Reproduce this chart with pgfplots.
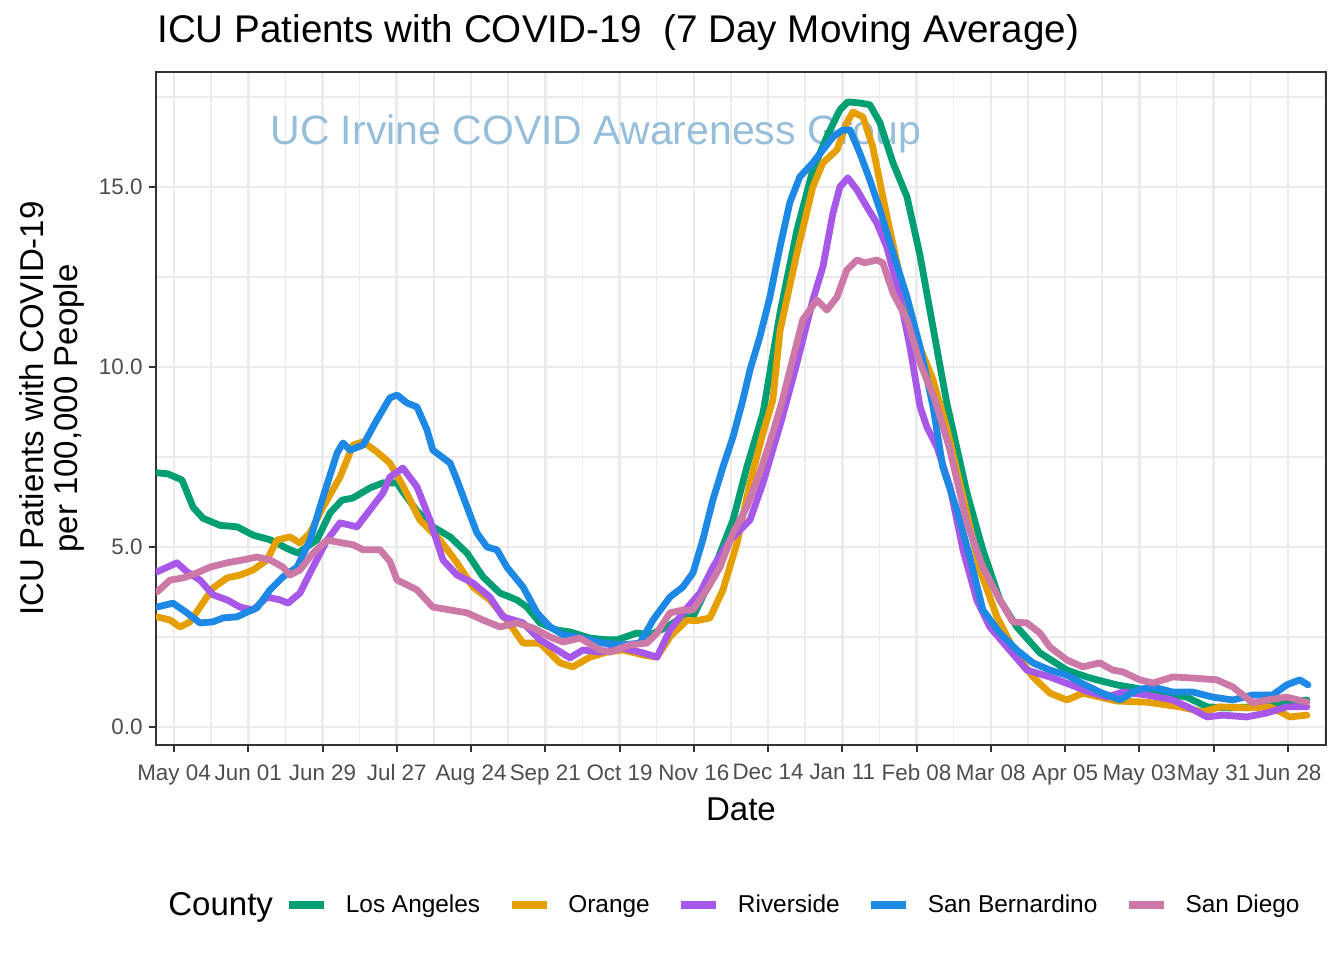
\documentclass[border=0pt]{standalone}
\usepackage{fontspec}
\setmainfont{Liberation Sans}
\usepackage{pgfplots}
\pgfplotsset{compat=1.18}
\definecolor{cla}{RGB}{0,158,115}
\definecolor{cor}{RGB}{230,159,0}
\definecolor{cri}{RGB}{168,88,232}
\definecolor{csb}{RGB}{30,136,229}
\definecolor{csd}{RGB}{204,121,167}
\definecolor{cwm}{RGB}{150,190,218}
\definecolor{g92}{RGB}{235,235,235}
\definecolor{g30}{RGB}{77,77,77}
\definecolor{g20}{RGB}{51,51,51}
\begin{document}
\begin{tikzpicture}
\useasboundingbox (-78pt,-107.5pt) rectangle (594pt,372.5pt);
\node[anchor=base west, inner sep=0pt, font=\fontsize{19.3}{22}\selectfont] at (0.5pt,351pt) {ICU Patients with COVID-19\ \ (7 Day Moving Average)};
\begin{axis}[
  at={(0,0)}, anchor=south west,
  scale only axis, width=585pt, height=336.5pt,
  xmin=-6.8, xmax=434.4, ymin=-0.5, ymax=18.19,
  xtick={0,28,...,420},
  xticklabels={May 04,Jun 01,Jun 29,Jul 27,Aug 24,Sep 21,Oct 19,Nov 16,Dec 14,Jan 11,Feb 08,Mar 08,Apr 05,May 03,May 31,Jun 28},
  ytick={0,5,10,15},
  yticklabels={0.0,5.0,10.0,15.0},
  minor xtick={14,42,...,434},
  minor ytick={2.5,7.5,12.5,17.5},
  grid=both,
  major grid style={color=g92, line width=1.3pt},
  minor grid style={color=g92, line width=0.7pt},
  minor tick length=0pt,
  major tick length=3.5pt,
  tick align=outside,
  xtick pos=bottom, ytick pos=left,
  tick style={color=g20, line width=1pt},
  axis line style={color=g20, line width=0.8pt},
  ticklabel style={font=\fontsize{11.2}{13}\selectfont, text=g30},
  xticklabel style={inner sep=0pt, yshift=-6pt},
  yticklabel style={inner sep=0pt, xshift=-3pt},
  xlabel={Date},
  ylabel={ICU Patients with COVID-19\\per 100,000 People},
  xlabel style={font=\fontsize{16.5}{19}\selectfont, at={(axis description cs:0.5,-0.1129)}, anchor=base, inner sep=0pt},
  ylabel style={font=\fontsize{16.5}{17}\selectfont, align=center, at={(axis description cs:-0.0885,0.5)}, anchor=center, inner sep=0pt},
  every axis plot/.append style={line width=3.4pt, line join=round, line cap=round},
  legend columns=5,
  legend style={draw=none, fill=none, at={(axis description cs:0.1105,-0.2377)}, anchor=west,
    inner sep=0pt, font=\fontsize{12.2}{14}\selectfont,
    /tikz/every odd column/.append style={column sep=7pt},
    /tikz/every even column/.append style={column sep=12pt}},
  legend image code/.code={\draw[#1, line width=3.6pt, line cap=butt] (0pt,0pt) -- (17.5pt,0pt);},
]
\node[anchor=base west, inner sep=0pt, text=cwm, font=\fontsize{20.5}{24}\selectfont] at (axis cs:36.2,16.17) {UC Irvine COVID Awareness Group};

\addplot[cla] coordinates {
(-6.4,7.06)(-2.3,7.03)(3.0,6.86)(7.2,6.10)(10.9,5.80)(17.3,5.60)(23.8,5.56)(29.8,5.33)(36.2,5.20)(43.7,4.92)(46.8,4.83)(53.9,5.20)(58.8,5.94)(63.3,6.30)(67.5,6.36)(73.9,6.64)(78.8,6.78)(84.1,6.78)(86.3,6.53)(91.6,6.0)(97.6,5.56)(104.1,5.28)(110.5,4.83)(116.5,4.17)(122.9,3.72)(129.3,3.53)(133.1,3.33)(138.0,2.89)(144.4,2.69)(149.3,2.64)(156.8,2.47)(163.2,2.42)(167.0,2.42)(174.6,2.61)(179.5,2.56)(185.9,2.78)(191.9,3.06)(195.7,3.06)(200.9,3.85)(205.9,4.83)(210.8,5.75)(216.0,7.22)(222.1,8.72)(228.5,11.5)(234.9,13.8)(240.9,15.47)(246.2,16.4)(251.1,17.14)(254.1,17.36)(258.6,17.33)(262.4,17.28)(266.2,16.78)(271.1,15.67)(276.4,14.72)(281.3,13.1)(286.2,11.1)(291.4,9.0)(299.0,6.5)(305.0,4.92)(311.4,3.53)(317.8,2.78)(326.5,2.06)(336.7,1.58)(344.2,1.39)(348.0,1.31)(355.5,1.17)(360.4,1.11)(372.9,0.94)(381.9,0.83)(389.5,0.56)(398.1,0.53)(406.8,0.56)(417.0,0.67)(427.2,0.75)
};
\addlegendentry{Los Angeles}

\addplot[cor] coordinates {
(-6.4,3.06)(-1.5,2.97)(2.3,2.78)(6.0,2.92)(9.8,3.33)(14.7,3.86)(20.0,4.14)(24.9,4.22)(29.8,4.36)(35.1,4.64)(38.8,5.19)(43.7,5.28)(47.5,5.11)(51.3,5.39)(56.2,6.11)(62.6,6.94)(67.5,7.83)(71.3,7.92)(76.5,7.64)(81.4,7.33)(86.3,6.7)(92.7,5.75)(100.3,5.19)(106.7,4.56)(112.7,3.89)(119.1,3.53)(125.5,2.97)(131.6,2.33)(138.0,2.33)(145.5,1.78)(150.4,1.67)(156.8,1.94)(163.2,2.08)(169.3,2.14)(176.8,2.0)(182.1,1.94)(187.0,2.5)(193.4,2.97)(197.0,2.95)(202.1,3.03)(207.0,3.81)(212.3,5.11)(217.2,6.78)(222.1,8.17)(225.8,9.08)(228.5,11.0)(234.9,13.17)(240.9,15.0)(244.7,15.67)(250.0,16.03)(253.7,16.78)(256.0,17.08)(259.8,16.94)(263.5,16.11)(267.3,14.72)(272.6,12.89)(278.6,11.03)(286.2,9.64)(291.4,8.3)(297.5,6.4)(303.9,4.36)(310.3,3.06)(317.0,2.1)(323.9,1.39)(330.3,0.94)(336.7,0.75)(342.7,0.94)(349.1,0.83)(355.5,0.72)(366.8,0.69)(379.3,0.56)(388.0,0.42)(394.4,0.56)(404.5,0.53)(413.2,0.56)(420.8,0.28)(427.2,0.33)
};
\addlegendentry{Orange}

\addplot[cri] coordinates {
(-6.4,4.31)(1.1,4.56)(4.9,4.31)(9.8,4.08)(14.7,3.67)(20.0,3.53)(24.9,3.33)(29.8,3.25)(35.1,3.61)(40.0,3.53)(43.0,3.44)(47.5,3.72)(52.4,4.44)(57.7,5.19)(62.6,5.67)(69.0,5.56)(73.9,6.03)(78.8,6.5)(81.4,6.94)(86.3,7.19)(91.6,6.67)(96.5,5.75)(101.4,4.64)(106.7,4.22)(112.7,4.0)(119.1,3.61)(124.0,3.06)(131.6,2.89)(138.0,2.42)(144.4,2.14)(149.3,1.92)(154.2,2.14)(160.6,2.08)(169.3,2.19)(176.8,2.06)(182.1,1.94)(187.0,2.69)(191.9,3.17)(198.3,3.72)(203.2,4.44)(209.6,5.19)(217.2,5.75)(222.1,6.78)(229.0,8.5)(234.9,10.11)(240.9,11.86)(244.7,12.78)(248.5,14.28)(251.1,15.0)(254.1,15.25)(257.5,14.92)(261.3,14.44)(265.0,14.0)(268.8,13.33)(273.7,11.94)(277.5,10.56)(281.3,8.9)(283.9,8.33)(287.7,7.78)(292.6,6.67)(297.5,4.92)(302.7,3.53)(307.6,2.78)(314.1,2.22)(321.6,1.58)(330.3,1.39)(338.9,1.15)(344.0,1.0)(351.8,0.83)(357.8,0.97)(366.8,0.89)(376.6,0.75)(383.1,0.53)(389.5,0.28)(395.5,0.33)(404.5,0.28)(412.1,0.39)(419.6,0.56)(427.2,0.56)
};
\addlegendentry{Riverside}

\addplot[csb] coordinates {
(-6.4,3.33)(-0.4,3.44)(4.9,3.17)(9.8,2.89)(14.7,2.92)(18.5,3.03)(23.8,3.06)(27.5,3.19)(31.3,3.31)(36.2,3.81)(41.1,4.17)(46.4,4.44)(51.3,5.19)(56.2,6.39)(61.5,7.61)(63.7,7.89)(66.4,7.69)(71.3,7.83)(76.5,8.53)(81.4,9.14)(84.1,9.22)(87.8,9.0)(91.6,8.89)(95.4,8.25)(97.6,7.69)(104.1,7.33)(106.7,6.86)(110.5,6.11)(114.2,5.39)(118.0,5.0)(121.8,4.92)(125.5,4.44)(131.6,3.89)(136.9,3.17)(141.8,2.78)(146.7,2.56)(154.2,2.47)(161.7,2.33)(169.3,2.28)(175.7,2.33)(180.6,2.97)(187.0,3.61)(191.9,3.89)(195.7,4.28)(199.4,5.2)(203.2,6.31)(207.0,7.22)(210.8,8.06)(214.5,9.08)(217.2,9.92)(220.9,10.83)(224.7,11.94)(228.5,13.33)(232.2,14.56)(236.0,15.28)(240.9,15.67)(244.7,16.03)(248.5,16.39)(252.2,16.58)(254.9,16.58)(258.6,15.94)(262.4,15.19)(266.2,14.36)(271.1,13.17)(276.4,11.94)(281.3,10.56)(286.2,8.9)(289.9,7.22)(295.2,6.03)(300.1,4.72)(305.0,3.25)(311.4,2.61)(317.8,2.14)(323.9,1.78)(330.3,1.58)(336.7,1.44)(342.7,1.2)(349.1,0.97)(356.7,0.75)(363.1,1.03)(369.1,1.11)(376.6,0.97)(384.2,0.97)(391.7,0.83)(399.3,0.75)(406.8,0.89)(414.3,0.89)(419.6,1.17)(424.5,1.31)(427.6,1.17)
};
\addlegendentry{San Bernardino}

\addplot[csd] coordinates {
(-6.4,3.75)(-1.5,4.08)(3.4,4.14)(8.7,4.28)(13.6,4.44)(20.0,4.56)(26.0,4.64)(31.3,4.72)(36.2,4.64)(41.1,4.44)(43.7,4.22)(47.5,4.36)(52.4,4.83)(57.7,5.19)(63.7,5.11)(67.5,5.06)(71.3,4.92)(77.7,4.92)(81.4,4.6)(84.1,4.08)(87.8,3.95)(91.6,3.81)(97.6,3.33)(104.1,3.25)(110.5,3.17)(116.5,2.97)(122.9,2.78)(129.3,2.89)(135.4,2.75)(141.8,2.5)(146.7,2.36)(153.1,2.47)(160.6,2.14)(164.4,2.08)(171.9,2.28)(178.3,2.33)(182.1,2.61)(187.0,3.17)(191.9,3.25)(195.7,3.25)(200.9,3.81)(205.9,4.44)(210.8,5.39)(216.0,6.11)(220.9,7.06)(225.8,8.17)(229.5,9.1)(232.2,9.9)(237.1,11.31)(242.4,11.86)(246.2,11.58)(250.0,11.94)(253.7,12.69)(257.5,12.97)(260.5,12.89)(265.0,12.97)(267.3,12.89)(271.1,12.06)(276.4,11.31)(281.3,10.11)(287.0,9.08)(292.6,7.69)(299.0,5.67)(305.0,4.44)(311.4,3.53)(316.3,2.92)(321.6,2.89)(326.5,2.61)(330.3,2.22)(336.7,1.86)(342.7,1.67)(349.1,1.78)(354.0,1.58)(357.8,1.53)(364.2,1.31)(369.1,1.22)(376.6,1.39)(384.2,1.36)(393.2,1.31)(399.3,1.11)(406.8,0.67)(412.1,0.75)(419.6,0.83)(427.2,0.69)
};
\addlegendentry{San Diego}
\end{axis}
\node[anchor=base west, inner sep=0pt, font=\fontsize{16.5}{19}\selectfont] at (6pt,-85pt) {County};
\end{tikzpicture}
\end{document}
